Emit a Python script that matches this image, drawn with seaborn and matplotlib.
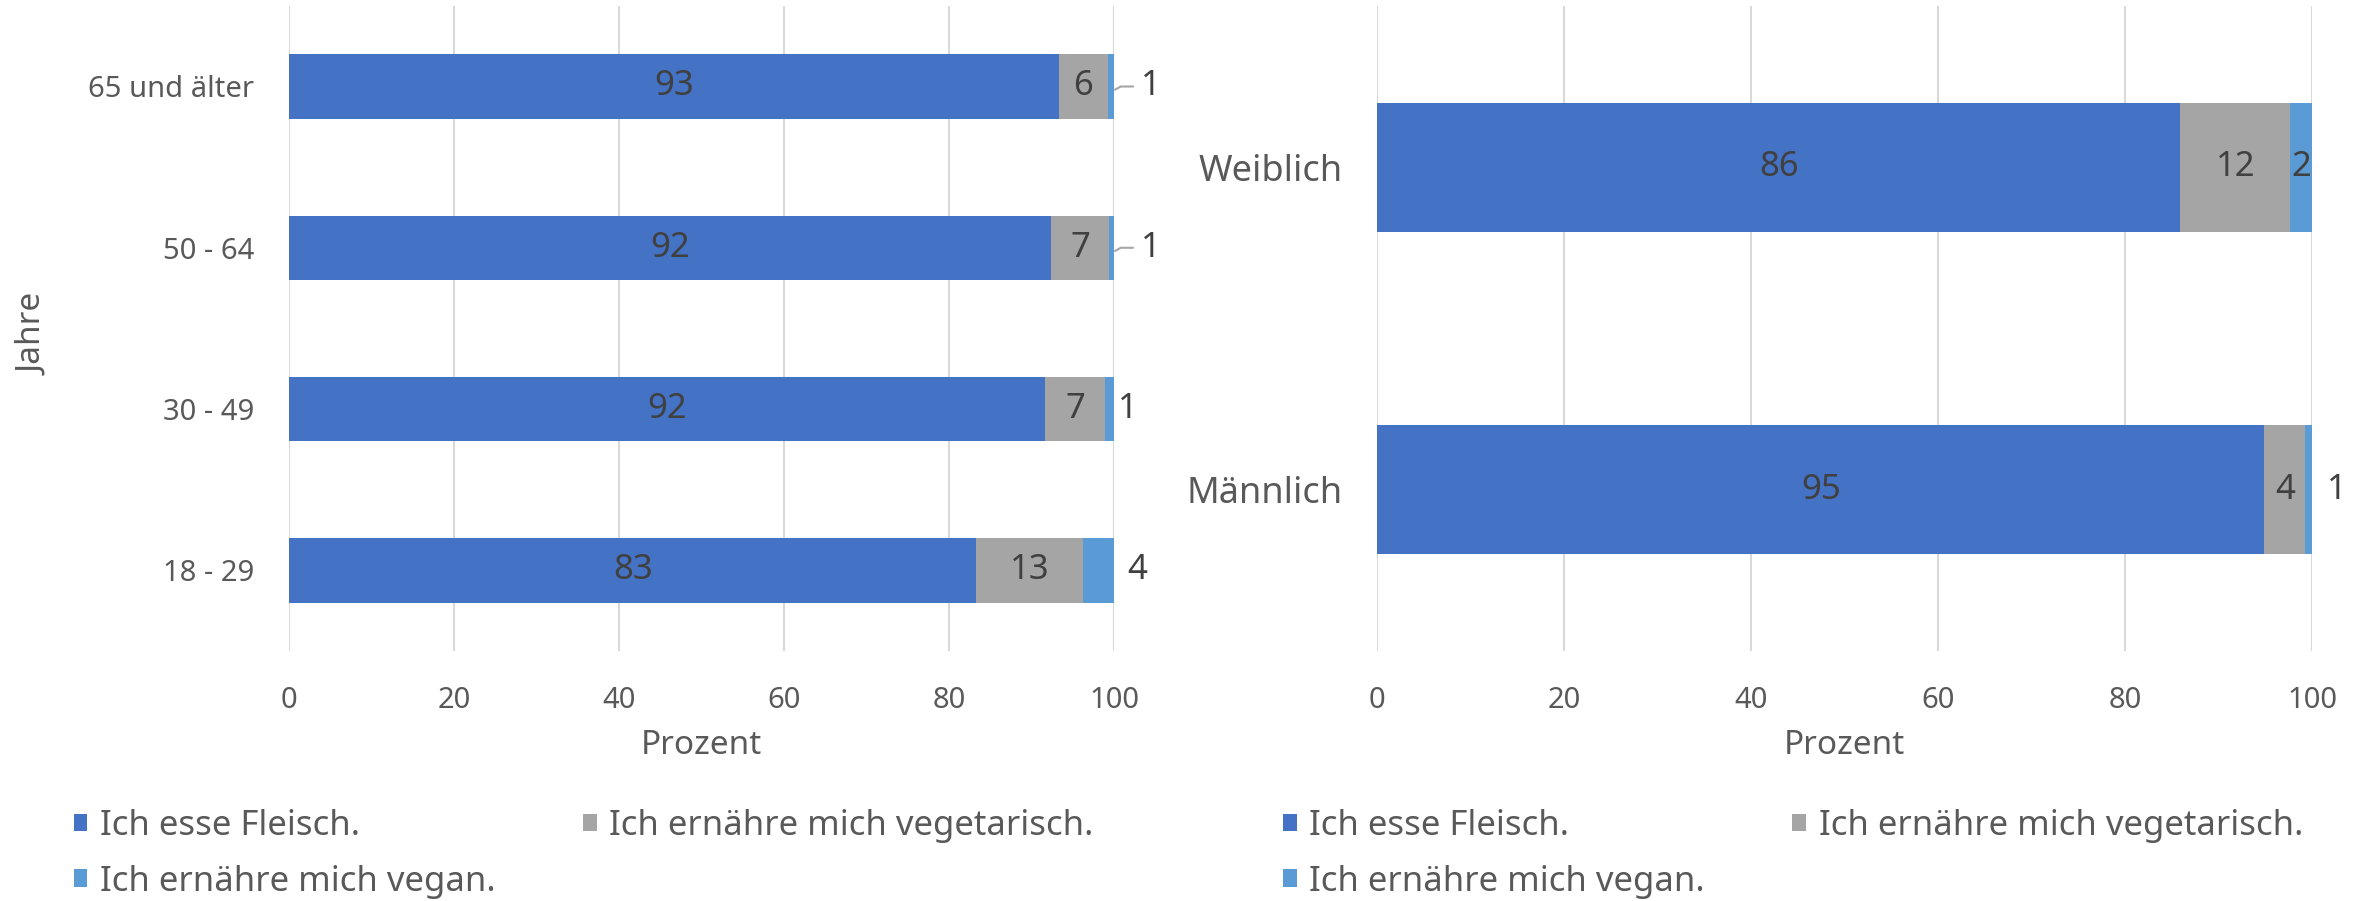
import numpy as np
import pandas as pd
import seaborn as sns
import matplotlib.pyplot as plt
from matplotlib.patches import Patch

# Altersgruppen (oben nach unten)
age_groups = ["65 und älter", "50 - 64", "30 - 49", "18 - 29"]
age_fleisch = [93.3, 92.4, 91.6, 83.3]
age_vegetarisch = [5.9, 7.0, 7.3, 12.9]
age_vegan = [0.8, 0.6, 1.1, 3.8]

# Geschlecht
sex_groups = ["Weiblich", "Männlich"]
sex_fleisch = [85.9, 94.9]
sex_vegetarisch = [11.8, 4.4]
sex_vegan = [2.3, 0.7]

series = ["Ich esse Fleisch.", "Ich ernähre mich vegetarisch.", "Ich ernähre mich vegan."]
colors = ["#4472C4", "#A5A5A5", "#5B9BD5"]

# where the vegan label goes: None = inside the segment, else x position outside
age_vegan_pos = [104.5, 104.5, 101.7, 102.8]
age_leader = [True, True, False, False]
sex_vegan_pos = [None, 102.7]
sex_leader = [False, False]

sns.set_style("white")
plt.rcParams["font.family"] = ["Noto Sans", "DejaVu Sans"]

TICK_C = "#595959"
LAB_C = "#404040"

fig = plt.figure(figsize=(23.71, 9.01), dpi=100)
ax1 = fig.add_axes([0.1219, 0.2775, 0.348, 0.716])
ax2 = fig.add_axes([0.5808, 0.2775, 0.3943, 0.716])


def draw(ax, groups, f, v, g, vpos, leader, ytick_fs):
    df = pd.DataFrame({"group": groups, "f": f, "v": v, "g": g})
    df["fv"] = df["f"] + df["v"]
    df["all"] = df["fv"] + df["g"]
    for col, c in [("all", colors[2]), ("fv", colors[1]), ("f", colors[0])]:
        sns.barplot(data=df, x=col, y="group", order=groups, orient="h",
                    color=c, saturation=1, width=0.4, linewidth=0, ax=ax,
                    errorbar=None, zorder=2)
    lab = dict(ha="center", va="center", fontsize=25, color=LAB_C)
    for i, r in df.iterrows():
        ax.text(r["f"] / 2, i, f"{r['f']:.0f}", **lab)
        ax.text(r["f"] + r["v"] / 2, i, f"{r['v']:.0f}", **lab)
        if vpos[i] is None:
            ax.text(r["fv"] + r["g"] / 2, i, f"{r['g']:.0f}", **lab)
        else:
            ax.text(vpos[i], i, f"{r['g']:.0f}", **lab)
            if leader[i]:
                ax.plot([100.1, 100.8, 102.3], [i + 0.02, i, i], color="#A6A6A6",
                        lw=1.5, clip_on=False, zorder=3)
    ax.set_xlim(0, 100)
    ax.set_ylim(len(groups) - 0.5, -0.5)
    ax.set_xticks(range(0, 101, 20))
    ax.grid(axis="x", color="#D9D9D9", lw=1.5, zorder=0)
    ax.grid(axis="y", visible=False)
    ax.set_axisbelow(True)
    sns.despine(ax=ax, left=True, bottom=True)
    ax.tick_params(axis="y", length=0, pad=25, labelsize=ytick_fs, labelcolor=TICK_C)
    ax.tick_params(axis="x", length=0, pad=25, labelsize=21, labelcolor=TICK_C)
    ax.set_xlabel("Prozent", fontsize=24, color=TICK_C, labelpad=10)


draw(ax1, age_groups, age_fleisch, age_vegetarisch, age_vegan,
     age_vegan_pos, age_leader, 21)
draw(ax2, sex_groups, sex_fleisch, sex_vegetarisch, sex_vegan,
     sex_vegan_pos, sex_leader, 26)

ax1.set_ylabel("Jahre", fontsize=24, color=TICK_C)
ax1.yaxis.set_label_coords(-0.29, 0.49)
ax2.set_ylabel("")

handles = [Patch(facecolor=c, edgecolor="none") for c in colors]
for x0, x1 in [(0.031, 0.246), (0.541, 0.756)]:
    for x, idx in [(x0, [0, 2]), (x1, [1])]:
        leg = fig.legend([handles[k] for k in idx], [series[k] for k in idx],
                         loc="upper left", bbox_to_anchor=(x, 0.102),
                         frameon=False, fontsize=25, handlelength=0.4,
                         handleheight=0.4, handletextpad=0.35, labelspacing=0.62,
                         borderpad=0, borderaxespad=0)
        for t in leg.get_texts():
            t.set_color(TICK_C)

fig.savefig("out.png", dpi=100)
